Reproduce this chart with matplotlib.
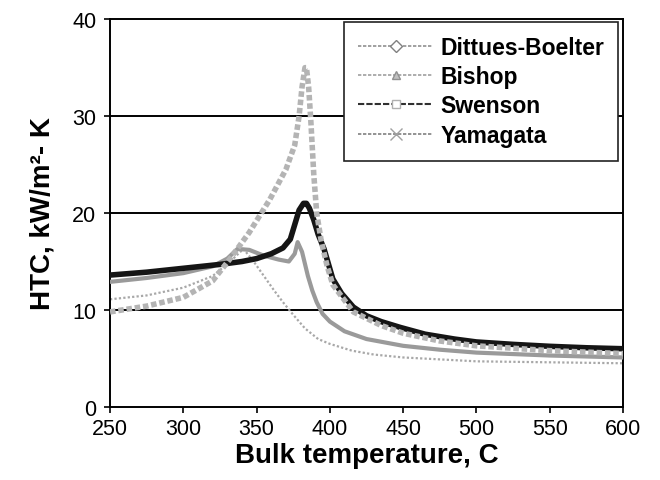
import matplotlib
matplotlib.use("Agg")
import matplotlib.pyplot as plt
from matplotlib.lines import Line2D

plt.rcParams['font.family'] = ['Liberation Sans', 'DejaVu Sans']

# Swenson (dark)
sw_T = [250, 275, 300, 325, 340, 350, 360, 368, 373, 376, 379, 382, 384, 386, 389, 392, 396,
        402, 408, 416, 425, 435, 448, 465, 485, 500, 525, 550, 575, 600]
sw_H = [13.6, 13.9, 14.3, 14.7, 15.0, 15.3, 15.8, 16.4, 17.3, 18.8, 20.3, 21.0, 21.0, 20.5, 19.3, 17.8, 16.3,
        13.2, 11.7, 10.3, 9.4, 8.8, 8.2, 7.5, 7.0, 6.7, 6.45, 6.25, 6.1, 6.0]

# Dittus-Boelter
db_T = [250, 275, 300, 320, 332, 345, 359, 370, 376, 379, 381, 383, 384, 385.5, 387, 389, 391, 394, 398,
        402, 416, 435, 450, 475, 500, 550, 600]
db_H = [9.8, 10.4, 11.3, 13.0, 15.3, 18.0, 21.4, 24.5, 27.0, 30.0, 33.0, 35.0, 35.0, 33.0, 29.5, 24.0, 20.0, 17.2, 14.6,
        12.6, 9.8, 8.4, 7.6, 6.8, 6.3, 5.8, 5.5]

# Bishop
bi_T = [250, 275, 300, 320, 330, 337, 345, 355, 365, 372, 376, 378, 381, 385, 388, 391, 395,
        400, 410, 425, 450, 475, 500, 550, 600]
bi_H = [12.9, 13.3, 13.8, 14.5, 15.3, 16.3, 16.2, 15.6, 15.2, 15.0, 15.8, 17.0, 16.0, 13.5, 12.0, 10.8, 9.6,
        8.8, 7.8, 7.0, 6.3, 5.9, 5.6, 5.3, 5.1]

# Yamagata
ya_T = [250, 275, 300, 320, 332, 341, 348, 355, 362, 368, 375, 383, 392, 400, 415, 430, 450, 475, 500, 550, 600]
ya_H = [11.1, 11.5, 12.3, 13.5, 15.0, 16.3, 15.0, 13.5, 12.0, 10.8, 9.5, 8.1, 7.0, 6.5, 5.8, 5.4, 5.1, 4.9, 4.7, 4.6, 4.5]

labels = ['Dittues-Boelter', 'Bishop', 'Swenson', 'Yamagata']
xticks = [250, 300, 350, 400, 450, 500, 550, 600]
yticks = [0, 10, 20, 30, 40]

fig = plt.figure(figsize=(6.6, 4.81), dpi=100)
ax = fig.add_axes([0.1667, 0.152, 0.7773, 0.806])

ax.plot(ya_T, ya_H, color='#a8a8a8', lw=1.6, ls=(0, (1, 1)), zorder=2)
ax.plot(bi_T, bi_H, color='#9a9a9a', lw=3.0, zorder=3)
ax.plot(sw_T, sw_H, color='#151515', lw=4.0, zorder=4)
ax.plot(db_T, db_H, color='#b4b4b4', lw=4.0, ls=(0, (1, 0.5)), zorder=5)

ax.set_xlim(250, 600)
ax.set_ylim(0, 40)
ax.set_xticks(xticks)
ax.set_yticks(yticks)
ax.tick_params(axis='both', labelsize=15.5, direction='out', length=4, width=1.2)
ax.tick_params(axis='x', pad=4)
ax.tick_params(axis='y', pad=6)
for y in [10, 20, 30]:
    ax.axhline(y, color='black', lw=1.4, zorder=1)
for s in ax.spines.values():
    s.set_linewidth(1.4)

ax.set_xlabel('Bulk temperature, C', fontsize=20, fontweight='bold', labelpad=2)
ax.set_ylabel('HTC, kW/m²- K', fontsize=20, fontweight='bold', labelpad=12)

handles = [
    Line2D([], [], color='#909090', lw=1.2, ls=(0, (2, 1)), marker='D', markersize=6,
           markerfacecolor='white', markeredgecolor='#808080'),
    Line2D([], [], color='#a0a0a0', lw=1.2, ls=(0, (2, 1)), marker='^', markersize=6,
           markerfacecolor='#c0c0c0', markeredgecolor='#909090'),
    Line2D([], [], color='#303030', lw=1.5, ls=(0, (3, 1)), marker='s', markersize=6,
           markerfacecolor='white', markeredgecolor='#b0b0b0'),
    Line2D([], [], color='#808080', lw=1.2, ls=(0, (2, 1)), marker='x', markersize=9,
           markeredgecolor='#a0a0a0'),
]
leg = ax.legend(handles, labels, loc='upper right', bbox_to_anchor=(0.99, 0.993),
                prop={'size': 16.5, 'weight': 'bold'}, frameon=True, fancybox=False,
                edgecolor='#222222', framealpha=1, handlelength=3.3, handletextpad=0.3,
                labelspacing=0.28, borderpad=0.6, numpoints=1, borderaxespad=0)
leg.get_frame().set_linewidth(1.2)

fig.savefig('out.png', dpi=100)
